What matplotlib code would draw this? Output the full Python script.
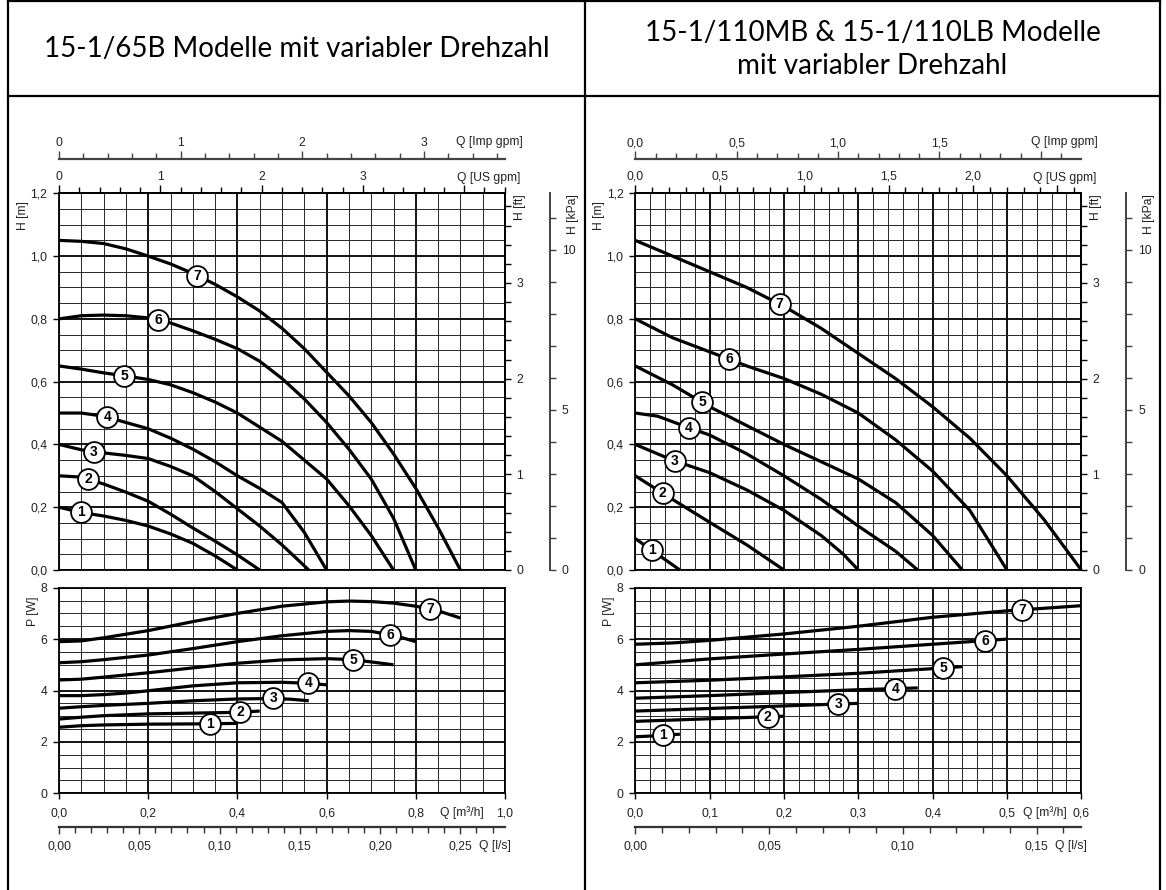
import matplotlib
matplotlib.use('Agg')
import matplotlib.pyplot as plt
from matplotlib.ticker import MultipleLocator, FuncFormatter
from matplotlib.lines import Line2D
import numpy as np

W, H = 1166, 890
plt.rcParams['font.family'] = ['Liberation Sans', 'DejaVu Sans']

# unit conversions (from m3/h and m)
US_GPM = 0.2271247
IMP_GPM = 0.2727655
LPS = 3.6
FT = 0.3048
KPA = 9.80665

# ---------------- left panel: 15-1/65B ----------------
L_HEAD_Q = [
    [0, 0.05, 0.1, 0.15, 0.2, 0.25, 0.3, 0.35, 0.4],
    [0, 0.05, 0.1, 0.15, 0.2, 0.25, 0.3, 0.35, 0.4, 0.45],
    [0, 0.05, 0.1, 0.15, 0.2, 0.25, 0.3, 0.35, 0.4, 0.45, 0.5, 0.56],
    [0, 0.05, 0.1, 0.15, 0.2, 0.25, 0.3, 0.35, 0.4, 0.45, 0.5, 0.55, 0.6],
    [0, 0.05, 0.1, 0.15, 0.2, 0.25, 0.3, 0.35, 0.4, 0.45, 0.5, 0.55, 0.6, 0.65, 0.7, 0.75],
    [0, 0.05, 0.1, 0.15, 0.2, 0.25, 0.3, 0.35, 0.4, 0.45, 0.5, 0.55, 0.6, 0.65, 0.7, 0.75, 0.8],
    [0, 0.05, 0.1, 0.15, 0.2, 0.25, 0.3, 0.35, 0.4, 0.45, 0.5, 0.55, 0.6, 0.65, 0.7, 0.75, 0.8, 0.85, 0.9],
]
L_HEAD_H = [
    [0.20, 0.183, 0.172, 0.158, 0.14, 0.115, 0.085, 0.045, 0.0],
    [0.30, 0.296, 0.274, 0.248, 0.219, 0.178, 0.134, 0.092, 0.048, 0.0],
    [0.40, 0.383, 0.373, 0.365, 0.355, 0.33, 0.30, 0.25, 0.195, 0.14, 0.08, 0.0],
    [0.50, 0.50, 0.49, 0.47, 0.45, 0.42, 0.385, 0.345, 0.30, 0.26, 0.215, 0.12, 0.0],
    [0.65, 0.64, 0.628, 0.618, 0.607, 0.59, 0.565, 0.535, 0.50, 0.455, 0.41, 0.35, 0.29, 0.205, 0.11, 0.0],
    [0.80, 0.81, 0.812, 0.81, 0.803, 0.787, 0.762, 0.735, 0.705, 0.665, 0.61, 0.545, 0.47, 0.385, 0.29, 0.165, 0.0],
    [1.05, 1.047, 1.04, 1.023, 1.0, 0.975, 0.945, 0.91, 0.87, 0.825, 0.77, 0.705, 0.63, 0.555, 0.47, 0.37, 0.26, 0.135, 0.0],
]
L_HEAD_LABEL_Q = [0.049, 0.065, 0.078, 0.108, 0.146, 0.222, 0.31]

L_POW_Q = [
    [0, 0.05, 0.1, 0.2, 0.3, 0.4],
    [0, 0.05, 0.1, 0.2, 0.3, 0.4, 0.45],
    [0, 0.05, 0.1, 0.2, 0.3, 0.4, 0.48, 0.52, 0.56],
    [0, 0.05, 0.1, 0.15, 0.2, 0.3, 0.4, 0.5, 0.56, 0.6],
    [0, 0.05, 0.1, 0.2, 0.3, 0.4, 0.5, 0.6, 0.66, 0.75],
    [0, 0.05, 0.1, 0.2, 0.3, 0.4, 0.5, 0.6, 0.65, 0.7, 0.75, 0.8],
    [0, 0.05, 0.1, 0.2, 0.3, 0.4, 0.5, 0.6, 0.65, 0.7, 0.75, 0.8, 0.85, 0.9],
]
L_POW_P = [
    [2.57, 2.63, 2.66, 2.69, 2.70, 2.72],
    [2.89, 2.96, 3.02, 3.09, 3.12, 3.15, 3.2],
    [3.31, 3.37, 3.42, 3.5, 3.6, 3.67, 3.69, 3.66, 3.6],
    [3.8, 3.8, 3.84, 3.9, 3.99, 4.18, 4.3, 4.32, 4.28, 4.22],
    [4.41, 4.44, 4.52, 4.69, 4.88, 5.06, 5.19, 5.24, 5.2, 5.0],
    [5.08, 5.12, 5.2, 5.38, 5.63, 5.9, 6.13, 6.3, 6.33, 6.3, 6.15, 5.9],
    [5.9, 5.93, 6.05, 6.33, 6.68, 7.0, 7.28, 7.45, 7.48, 7.46, 7.4, 7.28, 7.1, 6.82],
]
L_POW_LABEL_Q = [0.338, 0.406, 0.48, 0.559, 0.66, 0.742, 0.832]

# ---------------- right panel: 15-1/110MB & 15-1/110LB ----------------
R_HEAD_Q = [
    [0, 0.03, 0.06],
    [0, 0.05, 0.1, 0.15, 0.2],
    [0, 0.05, 0.1, 0.15, 0.2, 0.25, 0.28, 0.3],
    [0, 0.03, 0.07, 0.1, 0.15, 0.2, 0.25, 0.3, 0.35, 0.38],
    [0, 0.05, 0.1, 0.15, 0.2, 0.25, 0.3, 0.35, 0.4, 0.44],
    [0, 0.05, 0.1, 0.15, 0.2, 0.25, 0.3, 0.35, 0.4, 0.45, 0.5],
    [0, 0.05, 0.1, 0.15, 0.2, 0.25, 0.3, 0.35, 0.4, 0.45, 0.5, 0.55, 0.6],
]
R_HEAD_H = [
    [0.10, 0.05, 0.0],
    [0.30, 0.225, 0.152, 0.08, 0.0],
    [0.40, 0.35, 0.31, 0.255, 0.19, 0.11, 0.05, 0.0],
    [0.50, 0.49, 0.455, 0.43, 0.37, 0.30, 0.225, 0.14, 0.06, 0.0],
    [0.65, 0.59, 0.52, 0.46, 0.40, 0.345, 0.29, 0.215, 0.11, 0.0],
    [0.80, 0.74, 0.695, 0.65, 0.61, 0.56, 0.50, 0.415, 0.315, 0.19, 0.0],
    [1.05, 1.0, 0.95, 0.9, 0.84, 0.77, 0.69, 0.61, 0.52, 0.42, 0.30, 0.16, 0.0],
]
R_HEAD_LABEL_Q = [0.0225, 0.037, 0.053, 0.072, 0.09, 0.126, 0.194]

R_POW_Q = [
    [0, 0.03, 0.06],
    [0, 0.1, 0.2],
    [0, 0.1, 0.2, 0.3],
    [0, 0.1, 0.2, 0.3, 0.38],
    [0, 0.1, 0.2, 0.3, 0.4, 0.44],
    [0, 0.1, 0.2, 0.3, 0.4, 0.5],
    [0, 0.05, 0.1, 0.2, 0.3, 0.4, 0.5, 0.6],
]
R_POW_P = [
    [2.2, 2.24, 2.3],
    [2.8, 2.9, 3.0],
    [3.2, 3.3, 3.4, 3.5],
    [3.7, 3.8, 3.92, 4.03, 4.1],
    [4.3, 4.4, 4.53, 4.67, 4.85, 4.93],
    [5.0, 5.23, 5.42, 5.6, 5.8, 6.0],
    [5.8, 5.85, 5.95, 6.2, 6.5, 6.85, 7.1, 7.3],
]
R_POW_LABEL_Q = [0.037, 0.178, 0.273, 0.35, 0.414, 0.471, 0.52]

TITLE_LEFT = '15-1/65B Modelle mit variabler Drehzahl'
TITLE_RIGHT = ['15-1/110MB & 15-1/110LB Modelle', 'mit variabler Drehzahl']

TICK_COLOR = '#222222'
FS = 8.7


def fx(px):
    return px / W


def fy(py):
    return 1 - py / H


def rect(x0, y0, x1, y1):
    return [fx(x0), fy(y1), (x1 - x0) / W, (y1 - y0) / H]


def comma_fmt(decimals, vmax=None):
    def f(v, pos):
        if abs(v) < 1e-9:
            v = 0.0
        if vmax is not None and v > vmax + 1e-9:
            return ''
        return f"{v:.{decimals}f}".replace('.', ',')
    return FuncFormatter(f)


def label(px, py, s, **kw):
    kw.setdefault('fontsize', FS)
    kw.setdefault('color', TICK_COLOR)
    kw.setdefault('ha', 'center')
    kw.setdefault('va', 'center')
    fig.text(fx(px), fy(py), s, **kw)


def draw_curves(ax, qs, ys, label_q):
    for i, (q, y) in enumerate(zip(qs, ys)):
        ax.plot(q, y, color='black', lw=2.3, solid_capstyle='butt',
                solid_joinstyle='round', zorder=3, clip_on=False)
        ql = label_q[i]
        yl = np.interp(ql, q, y)
        ax.plot(ql, yl, 'o', ms=15, mfc='white', mec='black', mew=1.3, zorder=4, clip_on=False)
        ax.text(ql, yl, str(i + 1), ha='center', va='center', fontsize=10,
                fontweight='bold', zorder=5, color='black')


def style_grid(ax, q_major, q_minor, y_major, y_minor):
    ax.xaxis.set_major_locator(MultipleLocator(q_major))
    ax.xaxis.set_minor_locator(MultipleLocator(q_minor))
    ax.yaxis.set_major_locator(MultipleLocator(y_major))
    ax.yaxis.set_minor_locator(MultipleLocator(y_minor))
    ax.grid(which='major', color='black', lw=1.3)
    ax.grid(which='minor', color='#262626', lw=0.7)
    ax.set_axisbelow(True)
    for s in ax.spines.values():
        s.set_linewidth(1.3)
    ax.tick_params(which='minor', length=0)
    ax.tick_params(which='major', length=4, width=1, color='black', labelsize=FS,
                   labelcolor=TICK_COLOR)


def draw_panel(x0, x1, qmax, q_major, q_minor, cfg):
    # head axes
    axh = fig.add_axes(rect(x0, 193.3, x1, 570))
    axh.set_xlim(0, qmax)
    axh.set_ylim(0, 1.2)
    style_grid(axh, q_major, q_minor, 0.2, 0.05)
    axh.tick_params(axis='x', which='both', length=0, labelbottom=False)
    axh.tick_params(axis='y', pad=4.5)
    axh.yaxis.set_major_formatter(comma_fmt(1))
    draw_curves(axh, cfg['head_q'], cfg['head_h'], cfg['head_lab'])

    # US gpm on top of the grid
    us = axh.secondary_xaxis('top', functions=(lambda q: q / US_GPM, lambda g: g * US_GPM))
    us.xaxis.set_major_locator(MultipleLocator(cfg['us_major']))
    us.xaxis.set_minor_locator(MultipleLocator(cfg['us_minor']))
    us.xaxis.set_major_formatter(comma_fmt(cfg['gpm_dec'], cfg['us_max']))
    us.tick_params(which='major', length=6, width=1, pad=1.5, labelsize=FS, labelcolor=TICK_COLOR)
    us.tick_params(which='minor', length=4, width=1)
    us.spines['top'].set_linewidth(1.3)

    # Imp gpm as a separate line above
    imp = axh.secondary_xaxis((570 - 159) / (570 - 193.3),
                              functions=(lambda q: q / IMP_GPM, lambda g: g * IMP_GPM))
    imp.xaxis.set_major_locator(MultipleLocator(cfg['imp_major']))
    imp.xaxis.set_minor_locator(MultipleLocator(cfg['imp_minor']))
    imp.xaxis.set_major_formatter(comma_fmt(cfg['gpm_dec'], cfg['imp_max']))
    imp.tick_params(which='major', length=6, width=1, pad=1, labelsize=FS,
                    labelcolor=TICK_COLOR, color='#444444')
    imp.tick_params(which='minor', length=4, width=1, color='#444444')
    imp.spines['top'].set_linewidth(1.6)
    imp.spines['top'].set_color('#444444')

    # ft on the right spine
    ft = axh.secondary_yaxis('right', functions=(lambda h: h / FT, lambda f: f * FT))
    ft.yaxis.set_major_locator(MultipleLocator(1))
    ft.yaxis.set_minor_locator(MultipleLocator(0.2))
    ft.yaxis.set_major_formatter(comma_fmt(0))
    ft.tick_params(which='major', length=4, width=1, pad=4, labelsize=FS, labelcolor=TICK_COLOR)
    ft.tick_params(which='minor', length=4, width=1)
    ft.spines['right'].set_linewidth(1.3)

    # kPa on a separate line
    kpa = axh.secondary_yaxis((cfg['kpa_px'] - x0) / (x1 - x0),
                              functions=(lambda h: h * KPA, lambda p: p / KPA))
    kpa.yaxis.set_major_locator(MultipleLocator(5))
    kpa.yaxis.set_minor_locator(MultipleLocator(1))
    kpa.yaxis.set_major_formatter(comma_fmt(0))
    kpa.tick_params(which='major', length=4.5, width=1, pad=4, labelsize=FS,
                    labelcolor=TICK_COLOR, color='#444444')
    kpa.tick_params(which='minor', length=4.5, width=1, color='#444444')
    kpa.spines['right'].set_linewidth(1.4)
    kpa.spines['right'].set_color('#444444')

    # power axes
    axp = fig.add_axes(rect(x0, 587.7, x1, 793.3))
    axp.set_xlim(0, qmax)
    axp.set_ylim(0, 8)
    style_grid(axp, q_major, q_minor, 2, 0.5)
    axp.tick_params(axis='x', pad=6.5)
    axp.tick_params(axis='y', pad=4.5)
    axp.xaxis.set_major_formatter(comma_fmt(1))
    axp.yaxis.set_major_formatter(comma_fmt(0))
    draw_curves(axp, cfg['pow_q'], cfg['pow_p'], cfg['pow_lab'])

    # l/s below
    ls = axp.secondary_xaxis((793.3 - 827) / (793.3 - 587.7),
                             functions=(lambda q: q / LPS, lambda v: v * LPS))
    ls.xaxis.set_major_locator(MultipleLocator(0.05))
    ls.xaxis.set_minor_locator(MultipleLocator(0.01))
    ls.xaxis.set_major_formatter(comma_fmt(2))
    ls.tick_params(which='major', length=5, width=1, pad=5, labelsize=FS,
                   labelcolor=TICK_COLOR, color='#333333')
    ls.tick_params(which='minor', length=4, width=1, color='#333333')
    ls.spines['bottom'].set_linewidth(1.6)
    ls.spines['bottom'].set_color('#333333')

    # unit labels
    lx = cfg['unit_px']
    label(lx, 142, 'Q [Imp gpm]')
    label(lx, 178, 'Q [US gpm]')
    label(cfg['qm3_px'], 812.7, 'Q [m³/h]')
    label(cfg['qls_px'], 845.5, 'Q [l/s]')
    label(x0 - 36, 216, 'H [m]', rotation=90)
    label(x0 - 26, 611, 'P [W]', rotation=90)
    label(x1 + 15, 194, 'H [ft]', rotation=90, va='top')
    label(cfg['kpa_px'] + 23, 194, 'H [kPa]', rotation=90, va='top')


fig = plt.figure(figsize=(W / 100, H / 100), dpi=100)

left_cfg = dict(head_q=L_HEAD_Q, head_h=L_HEAD_H, head_lab=L_HEAD_LABEL_Q,
                pow_q=L_POW_Q, pow_p=L_POW_P, pow_lab=L_POW_LABEL_Q,
                us_major=1, us_minor=0.2, us_max=3.5, imp_major=1, imp_minor=0.2, imp_max=3.5,
                gpm_dec=0, kpa_px=550, unit_px=489, qm3_px=461.7, qls_px=495)
right_cfg = dict(head_q=R_HEAD_Q, head_h=R_HEAD_H, head_lab=R_HEAD_LABEL_Q,
                 pow_q=R_POW_Q, pow_p=R_POW_P, pow_lab=R_POW_LABEL_Q,
                 us_major=0.5, us_minor=0.1, us_max=2.2, imp_major=0.5, imp_minor=0.1, imp_max=1.7,
                 gpm_dec=1, kpa_px=1126.3, unit_px=1064.7, qm3_px=1044.7, qls_px=1071)

draw_panel(59, 505, 1.0, 0.2, 0.05, left_cfg)
draw_panel(635.3, 1081.3, 0.6, 0.1, 0.02, right_cfg)

# table frame and headers
for (xa, ya, xb, yb) in [(8, 0, 8, 890), (1160, 0, 1160, 890), (585, 0, 585, 890),
                         (8, 1, 1160, 1), (8, 96, 1160, 96)]:
    fig.add_artist(Line2D([fx(xa), fx(xb)], [fy(ya), fy(yb)], color='black', lw=1.6))

TITLE_FONT = dict(ha='center', va='center', fontsize=20, family=['Lato', 'DejaVu Sans'],
                  color='black')
fig.text(fx(296.5), fy(49), TITLE_LEFT, **TITLE_FONT)
fig.text(fx(872.5), fy(33), TITLE_RIGHT[0], **TITLE_FONT)
fig.text(fx(872.5), fy(66), TITLE_RIGHT[1], **TITLE_FONT)

fig.savefig('out.png', dpi=100)
